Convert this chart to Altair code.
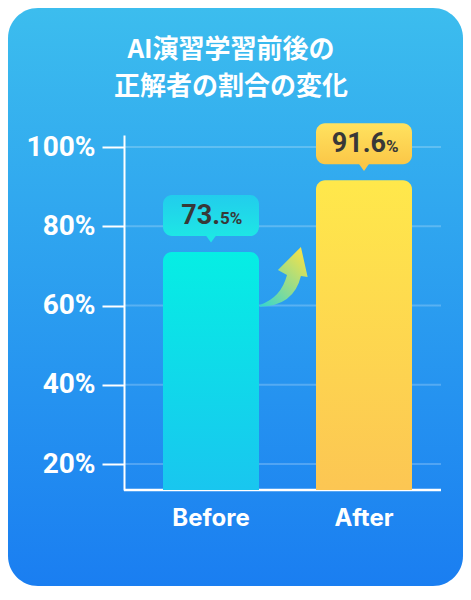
import altair as alt
import pandas as pd

# ---- data ----
categories = ["Before", "After"]
values = [73.5, 91.6]
label_main = ["73.", "91.6"]
label_small = ["5%", "%"]
tick_values = [20, 40, 60, 80, 100]
title_lines = ["AI演習学習前後の", "正解者の割合の変化"]

df = pd.DataFrame({"cat": categories, "value": values,
                   "main": label_main, "small": label_small})
grid_df = pd.DataFrame({"value": tick_values})
one = pd.DataFrame({"k": [0]})

# ---- geometry / style ----
W, H = 317, 355
PAD = {"left": 116, "right": 22, "top": 127, "bottom": 96}

x_scale = alt.Scale(domain=categories, paddingInner=0.3725,
                    paddingOuter=0.2222, align=0.5735)
y_scale = alt.Scale(domain=[13.44, 103.03], nice=False, zero=False)

X = alt.X("cat:N", scale=x_scale, sort=categories,
          axis=alt.Axis(title=None, domain=False, ticks=False, tickSize=0,
                        labelAngle=0, labelFont="Inter", labelFontSize=24,
                        labelFontWeight="bold", labelColor="white",
                        labelPadding=16, zindex=1))
Y = alt.Y("value:Q", scale=y_scale,
          axis=alt.Axis(title=None, values=tick_values,
                        labelExpr="datum.value + '%'", grid=False,
                        domainColor="white", domainWidth=2,
                        tickColor="white", tickWidth=2, tickSize=22,
                        labelColor="white", labelFont="Roboto",
                        labelFontSize=28, labelFontWeight="bold",
                        labelPadding=7, zindex=1))


def vgrad(top, bottom):
    return alt.LinearGradient(gradient="linear",
                              stops=[alt.GradientStop(offset=0, color=top),
                                     alt.GradientStop(offset=1, color=bottom)],
                              x1=0, x2=0, y1=0, y2=1)


card = alt.Chart(one).mark_rect(
    cornerRadius=30, color=vgrad("#3cbdee", "#1a7ef1")
).encode(
    x=alt.value(-PAD["left"]), x2=alt.value(W + PAD["right"]),
    y=alt.value(-PAD["top"]), y2=alt.value(H + PAD["bottom"])
)

grid = alt.Chart(grid_df).mark_rule(
    color="white", opacity=0.22, strokeWidth=2
).encode(x=alt.value(0), x2=alt.value(W), y=Y)

baseline = alt.Chart(one).mark_rule(color="white", strokeWidth=2.5).encode(
    x=alt.value(0), x2=alt.value(W), y=alt.value(H)
)

styles = {
    "Before": dict(bar=("#06eee4", "#19c6ef"), box=("#22cdec", "#1ee6e5"),
                   tri="#1ee6e5", dx=9),
    "After": dict(bar=("#ffe84b", "#fcc653"), box=("#ffe25f", "#fbc747"),
                  tri="#fbc747", dx=22),
}

tri_path = "M -1 -0.8 L 1 -0.8 L 0 0.6 Z"

layers = [card, grid, baseline]
for cat in categories:
    s = styles[cat]
    base = alt.Chart(df).transform_filter(alt.datum.cat == cat)
    bar = base.mark_rect(cornerRadiusTopLeft=9, cornerRadiusTopRight=9,
                         color=vgrad(*s["bar"])).encode(
        x=X, y=Y, y2=alt.value(H))
    box = base.mark_rect(cornerRadius=9, yOffset=-57, y2Offset=-16,
                         color=vgrad(*s["box"])).encode(
        x=X, y=Y, y2="value:Q")
    tri = base.mark_point(shape=tri_path, size=144, filled=True, opacity=1,
                          strokeWidth=0, color=s["tri"], yOffset=-13).encode(
        x=X, y=Y)
    t_main = base.mark_text(align="right", baseline="alphabetic", dy=-28,
                            dx=s["dx"], font="Roboto", fontSize=27,
                            fontWeight="bold", color="#383838").encode(
        x=X, y=Y, text="main:N")
    t_small = base.mark_text(align="left", baseline="alphabetic", dy=-28,
                             dx=s["dx"], font="Roboto", fontSize=17,
                             fontWeight="bold", color="#383838").encode(
        x=X, y=Y, text="small:N")
    layers += [bar, box, tri, t_main, t_small]

arrow_path = ("M -0.72 0.84 Q -0.06 0.62 0.125 -0.09 L -0.16 -0.25 "
              "L 0.56 -0.97 L 0.77 -0.03 L 0.56 -0.06 "
              "Q 0.34 0.875 -0.72 0.9 Z")
arrow = alt.Chart(one).mark_point(
    shape=arrow_path, size=4096, filled=True, opacity=1, strokeWidth=0,
    color=alt.LinearGradient(gradient="linear",
                             stops=[alt.GradientStop(offset=0, color="#35d6cf"),
                                    alt.GradientStop(offset=1, color="#f3e24a")],
                             x1=0, y1=1, x2=0.8, y2=0)
).encode(x=alt.value(159), y=alt.value(143))

title1 = alt.Chart(one).mark_text(
    text=title_lines[0], font="Noto Sans CJK JP", fontSize=26,
    fontWeight="bold", color="white", align="center", baseline="middle"
).encode(x=alt.value(107), y=alt.value(-85))
title2 = alt.Chart(one).mark_text(
    text=title_lines[1], font="Noto Sans CJK JP", fontSize=26,
    fontWeight="bold", color="white", align="center", baseline="middle"
).encode(x=alt.value(107), y=alt.value(-48))

layers += [arrow, title1, title2]

chart = alt.layer(*layers).properties(
    width=W, height=H,
    autosize=alt.AutoSizeParams(type="none"),
    padding=PAD,
).configure_view(stroke=None).configure(background="white")

chart.save("out.html", embed_options={"renderer": "svg", "actions": False})
